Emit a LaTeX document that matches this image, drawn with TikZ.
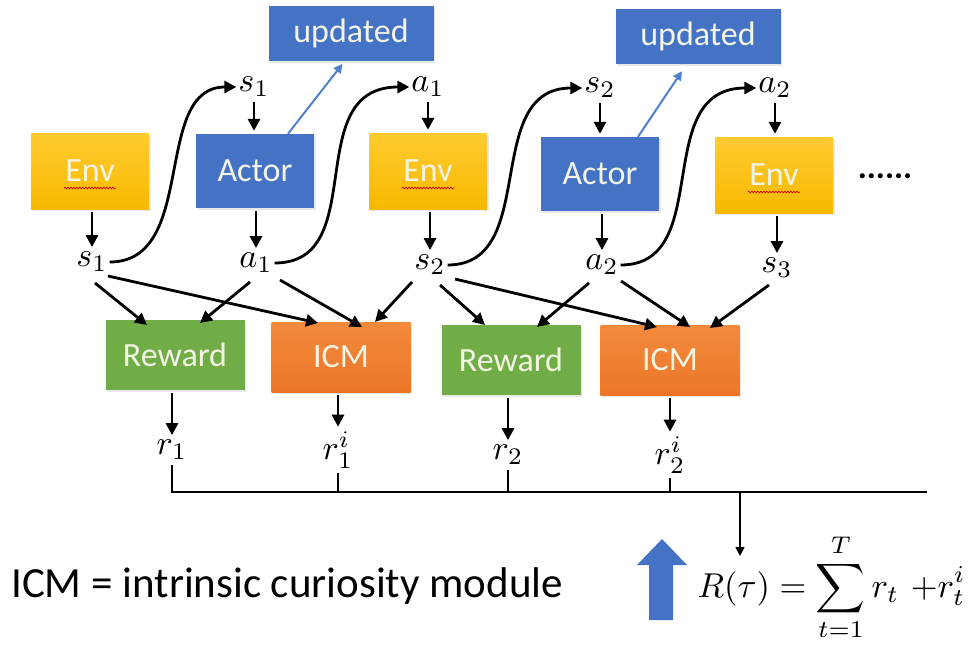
\RequirePackage{fix-cm}
\documentclass[tikz,border=0pt]{standalone}
\usepackage{fontspec}
\setsansfont{Carlito}
\usetikzlibrary{arrows.meta,shadows,decorations.pathmorphing,calc}
\definecolor{envtop}{HTML}{FFCB30}
\definecolor{envbot}{HTML}{F7B900}
\definecolor{actc}{HTML}{4472C4}
\definecolor{rewc}{HTML}{70AD47}
\definecolor{icmtop}{HTML}{F28A3C}
\definecolor{icmbot}{HTML}{EC7628}
\definecolor{boxtext}{HTML}{F4F4E4}
\definecolor{updline}{HTML}{4F81CC}
\tikzset{
  box/.style={draw=none, inner sep=0pt, font=\sffamily\fontsize{34}{40}\selectfont, text=boxtext,
    drop shadow={shadow xshift=1.5pt, shadow yshift=-2pt, opacity=0.18}},
  envbox/.style={box, top color=envtop, bottom color=envbot, minimum width=118pt, minimum height=76pt},
  actbox/.style={box, fill=actc, minimum width=118pt, minimum height=74pt},
  updbox/.style={box, fill=actc, minimum width=165pt, minimum height=55pt},
  rewbox/.style={box, fill=rewc, minimum width=139pt, minimum height=70pt},
  icmbox/.style={box, top color=icmtop, bottom color=icmbot, minimum width=139pt, minimum height=70pt},
  lab/.style={inner sep=0.4pt, scale=3.4},
  arr/.style={line width=2.8pt, -{Triangle[length=12pt,width=12pt]}},
  uarr/.style={line width=2pt, updline, -{Triangle[length=9pt,width=9pt]}},
  squig/.style={red!85!black, line width=0.7pt, decorate, decoration={snake, segment length=3pt, amplitude=0.8pt}},
}
\begin{document}
\begin{tikzpicture}[x=1pt,y=-1pt]
\useasboundingbox (0,0) rectangle (972,646);
% boxes
\node[envbox] (env1) at (90,171) {Env};
\node[actbox] (act1) at (255,171) {Actor};
\node[envbox] (env2) at (428,171) {Env};
\node[actbox] (act2) at (600,174) {Actor};
\node[envbox] (env3) at (774,175) {Env};
\node[updbox] (upd1) at (351,33) {updated};
\node[updbox] (upd2) at (698,36) {updated};
\node[rewbox] (rew1) at (175,355) {Reward};
\node[icmbox] (icm1) at (341,357) {ICM};
\node[rewbox] (rew2) at (511,360) {Reward};
\node[icmbox] (icm2) at (670,360) {ICM};
\node[font=\sffamily\bfseries\fontsize{34}{40}\selectfont, inner sep=0pt] (dots) at (885,176) {......};
% spell-check squiggles
\foreach \e in {env1,env2,env3}{
  \draw[squig] ([xshift=-26pt,yshift=-17pt]\e.center) -- ([xshift=26pt,yshift=-17pt]\e.center);
}
% labels
\node[lab] (s1t) at (254,87) {$s_1$};
\node[lab] (a1t) at (428,87) {$a_1$};
\node[lab] (s2t) at (600,88) {$s_2$};
\node[lab] (a2t) at (775,88) {$a_2$};
\node[lab] (s1b) at (92,262) {$s_1$};
\node[lab] (a1b) at (256,263) {$a_1$};
\node[lab] (s2b) at (430,265) {$s_2$};
\node[lab] (a2b) at (602,265) {$a_2$};
\node[lab] (s3b) at (777,268) {$s_3$};
\node[lab] (r1) at (172,450) {$r_1$};
\node[lab] (r1i) at (338,450) {$r_1^i$};
\node[lab] (r2) at (508,455) {$r_2$};
\node[lab] (r2i) at (670,455) {$r_2^i$};
% vertical arrows
\draw[arr, shorten <=3pt, shorten >=3pt] (env1.south -| s1b.north) -- (s1b.north);
\draw[arr, shorten <=3pt, shorten >=3pt] (s1t.south) -- (s1t.south |- act1.north);
\draw[arr, shorten <=3pt, shorten >=3pt] (act1.south -| a1b.north) -- (a1b.north);
\draw[arr, shorten <=3pt, shorten >=3pt] (a1t.south) -- (a1t.south |- env2.north);
\draw[arr, shorten <=3pt, shorten >=3pt] (env2.south -| s2b.north) -- (s2b.north);
\draw[arr, shorten <=3pt, shorten >=3pt] (s2t.south) -- (s2t.south |- act2.north);
\draw[arr, shorten <=3pt, shorten >=3pt] (act2.south -| a2b.north) -- (a2b.north);
\draw[arr, shorten <=3pt, shorten >=3pt] (a2t.south) -- (a2t.south |- env3.north);
\draw[arr, shorten <=3pt, shorten >=3pt] (env3.south -| s3b.north) -- (s3b.north);
\draw[arr, shorten <=3pt, shorten >=3pt] (rew1.south -| r1.north) -- (r1.north);
\draw[arr, shorten <=3pt, shorten >=3pt] (icm1.south -| r1i.north) -- (r1i.north);
\draw[arr, shorten <=3pt, shorten >=3pt] (rew2.south -| r2.north) -- (r2.north);
\draw[arr, shorten <=3pt, shorten >=3pt] (icm2.south -| r2i.north) -- (r2i.north);
% curved arrows
\draw[arr] (s1b.east) .. controls +(89,0) and +(-85,0) .. (s1t.west);
\draw[arr] (a1b.east) .. controls +(97,0) and +(-110,0) .. (a1t.west);
\draw[arr] (s2b.east) .. controls +(93,0) and +(-102,0) .. (s2t.west);
\draw[arr] (a2b.east) .. controls +(95,0) and +(-107,0) .. (a2t.west);
% actor -> updated
\draw[uarr, shorten >=4pt] ([xshift=33pt]act1.north) -- ([xshift=-6pt]upd1.south);
\draw[uarr, shorten >=9pt] ([xshift=38pt]act2.north) -- ([xshift=-11pt]upd2.south);
% diagonal arrows
\draw[arr] ($(s1b)+(3,21)$) -- ($(rew1)+(-28,-30)$);
\draw[arr] ($(s1b)+(16,14)$) -- ($(icm1)+(-23,-34)$);
\draw[arr] ($(a1b)+(-6,19)$) -- ($(rew1)+(25,-32)$);
\draw[arr] ($(a1b)+(24,17)$) -- ($(icm1)+(21,-30)$);
\draw[arr] ($(s2b)+(-18,17)$) -- ($(icm1)+(34,-35)$);
\draw[arr] ($(s2b)+(10,20)$) -- ($(rew2)+(-26,-35)$);
\draw[arr] ($(s2b)+(25,14)$) -- ($(icm2)+(-13,-33)$);
\draw[arr] ($(a2b)+(-13,18)$) -- ($(rew2)+(26,-33)$);
\draw[arr] ($(a2b)+(19,16)$) -- ($(icm2)+(20,-33)$);
\draw[arr] ($(s3b)+(-8,17)$) -- ($(icm2)+(40,-32)$);
% sum line
\coordinate (lineL) at (172,492);
\coordinate (lineR) at (927,492);
\coordinate (jR) at (740,492);
\coordinate (Rtip) at (740,556);
\draw[line width=2.8pt, shorten <=3pt] (r1.south) -- (lineL) -- (lineR);
\draw[line width=2.8pt, shorten <=3pt] (r1i.south) -- (r1i.south |- lineL);
\draw[line width=2.8pt, shorten <=3pt] (r2.south) -- (r2.south |- lineL);
\draw[line width=2.8pt, shorten <=3pt] (r2i.south) -- (r2i.south |- lineL);
\draw[line width=1.6pt, -{Triangle[length=9pt,width=9pt]}] (jR) -- (Rtip);
% bottom texts
\node[anchor=base west, inner sep=0pt, font=\sffamily\fontsize{43}{50}\selectfont] (legend) at (11,597) {ICM = intrinsic curiosity module};
\fill[actc] (649,620) -- (649,565) -- (637,565) -- (662,539) -- (687,565) -- (673,565) -- (673,620) -- cycle;
\node[anchor=base west, inner sep=0pt, scale=3.45] (formula) at (697,597) {$R(\tau) = \displaystyle\sum_{t=1}^{T} r_t \ {+}r_t^i$};
\end{tikzpicture}
\end{document}
